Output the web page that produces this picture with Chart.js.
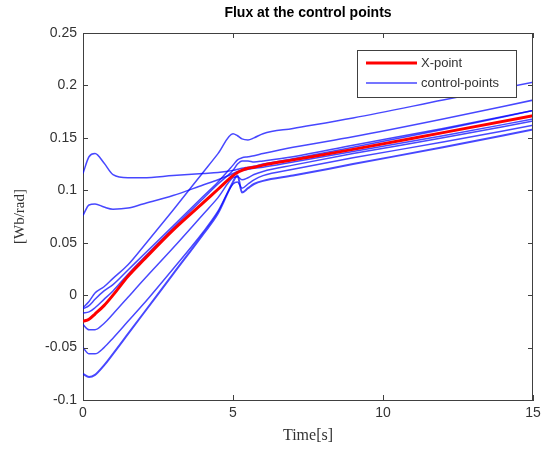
<!DOCTYPE html>
<html>
<head>
<meta charset="utf-8">
<script src="https://cdn.jsdelivr.net/npm/chart.js@4"></script>
<style>
  body { margin: 0; background: #fff; }
  canvas { display: block; }
</style>
</head>
<body>
<canvas id="flux_chart" width="546" height="450"></canvas>
<script>
// time axis shared by every trace
const time_s = [0, 0.2, 0.4, 0.7, 1, 1.5, 2, 3, 4, 4.5, 5, 5.15, 5.3, 5.5, 5.7, 6, 7, 9, 12, 15]

// X-point flux [Wb/rad]
const xpoint = [-0.025, -0.023, -0.018, -0.010, 0.000, 0.018, 0.033, 0.062, 0.088, 0.101, 0.114, 0.117, 0.119, 0.121, 0.122, 0.124, 0.129, 0.139, 0.155, 0.171]

// control points flux [Wb/rad]
const cp_a = [0.116, 0.132, 0.135, 0.126, 0.115, 0.112, 0.112, 0.114, 0.116, 0.117, 0.119, 0.120, 0.121, 0.122, 0.123, 0.125, 0.130, 0.141, 0.158, 0.176]
const cp_b = [0.076, 0.086, 0.087, 0.084, 0.082, 0.083, 0.087, 0.095, 0.105, 0.110, 0.116, 0.118, 0.119, 0.120, 0.121, 0.122, 0.127, 0.137, 0.152, 0.168]
const cp_c = [-0.012, -0.006, 0.002, 0.008, 0.016, 0.029, 0.046, 0.081, 0.117, 0.135, 0.154, 0.152, 0.149, 0.148, 0.150, 0.154, 0.159, 0.169, 0.186, 0.203]
const cp_d = [-0.013, -0.010, -0.004, 0.004, 0.010, 0.024, 0.038, 0.066, 0.094, 0.108, 0.124, 0.129, 0.131, 0.132, 0.133, 0.135, 0.141, 0.151, 0.168, 0.186]
const cp_e = [-0.017, -0.016, -0.012, -0.004, 0.004, 0.020, 0.035, 0.064, 0.092, 0.106, 0.119, 0.125, 0.128, 0.128, 0.127, 0.128, 0.132, 0.143, 0.159, 0.176]
const cp_f = [-0.028, -0.033, -0.033, -0.027, -0.018, -0.002, 0.014, 0.045, 0.077, 0.093, 0.112, 0.113, 0.110, 0.112, 0.115, 0.118, 0.124, 0.135, 0.150, 0.166]
const cp_g = [-0.050, -0.056, -0.056, -0.050, -0.041, -0.025, -0.009, 0.025, 0.060, 0.080, 0.106, 0.108, 0.102, 0.106, 0.110, 0.114, 0.120, 0.131, 0.146, 0.162]
const cp_h = [-0.075, -0.078, -0.076, -0.067, -0.056, -0.037, -0.018, 0.020, 0.058, 0.078, 0.108, 0.114, 0.098, 0.102, 0.106, 0.109, 0.114, 0.125, 0.141, 0.158]

const control_points = [cp_a, cp_b, cp_c, cp_d, cp_e, cp_f, cp_g, cp_h]

const x_ticks = [0, 5, 10, 15]
const y_ticks = [-0.1, -0.05, 0, 0.05, 0.1, 0.15, 0.2, 0.25]

const axis_color = "#404040"
const text_color = "#333333"
const blue = "rgba(0,0,255,0.72)"
const red = "rgb(255,0,0)"

function to_points(values) {
  return values.map((v, i) => ({ x: time_s[i], y: v }))
}

let datasets = [{
  label: "X-point",
  data: to_points(xpoint),
  borderColor: red,
  borderWidth: 3,
  order: 0
}]

control_points.forEach((cp, i) => {
  datasets.push({
    label: "control-points",
    data: to_points(cp),
    borderColor: blue,
    borderWidth: i == 7 ? 2 : 1.5,
    order: 1
  })
})

// box, inward ticks, title and legend in the MATLAB style
const matlab_frame = {
  id: "matlab_frame",
  afterDraw(chart) {
    const ctx = chart.ctx
    const a = chart.chartArea
    const sx = chart.scales.x, sy = chart.scales.y
    ctx.save()
    ctx.strokeStyle = axis_color
    ctx.lineWidth = 1
    ctx.beginPath()
    ctx.moveTo(a.left, a.top + 0.5); ctx.lineTo(a.right, a.top + 0.5)
    ctx.moveTo(a.right - 0.5, a.top); ctx.lineTo(a.right - 0.5, a.bottom)
    x_ticks.forEach(t => {
      const px = Math.round(sx.getPixelForValue(t)) + 0.5
      ctx.moveTo(px, a.bottom); ctx.lineTo(px, a.bottom - 5)
      ctx.moveTo(px, a.top); ctx.lineTo(px, a.top + 5)
    })
    y_ticks.forEach(t => {
      const py = Math.round(sy.getPixelForValue(t)) + 0.5
      ctx.moveTo(a.left, py); ctx.lineTo(a.left + 5, py)
      ctx.moveTo(a.right, py); ctx.lineTo(a.right - 5, py)
    })
    ctx.stroke()

    // title over the plot box
    ctx.fillStyle = "#000"
    ctx.font = "bold 14px 'Liberation Sans', Arial, sans-serif"
    ctx.textAlign = "center"
    ctx.textBaseline = "middle"
    ctx.fillText("Flux at the control points", (a.left + a.right) / 2, 13)

    // legend
    const lx = 357, ly = 50, lw = 159, lh = 47
    ctx.fillStyle = "#fff"
    ctx.fillRect(lx, ly, lw, lh)
    ctx.strokeStyle = axis_color
    ctx.strokeRect(lx + 0.5, ly + 0.5, lw, lh)
    const items = [datasets[0], datasets[1]]
    items.forEach((ds, i) => {
      const y = ly + 13 + i * 20
      ctx.beginPath()
      ctx.strokeStyle = ds.borderColor
      ctx.lineWidth = ds.borderWidth
      ctx.moveTo(lx + 9, y); ctx.lineTo(lx + 60, y)
      ctx.stroke()
      ctx.fillStyle = text_color
      ctx.font = "13px 'Liberation Sans', Arial, sans-serif"
      ctx.textAlign = "left"
      ctx.fillText(ds.label, lx + 64, y)
    })
    ctx.restore()
  }
}

const tick_font = { family: "'Liberation Sans', Arial, sans-serif", size: 14 }

new Chart(document.getElementById("flux_chart"), {
  type: "line",
  data: { datasets: datasets },
  options: {
    responsive: false,
    animation: false,
    layout: { padding: { top: 33, right: 13, left: 0, bottom: 0 } },
    elements: { point: { radius: 0 }, line: { cubicInterpolationMode: "monotone" } },
    plugins: {
      legend: { display: false },
      tooltip: { enabled: false },
      title: { display: false }
    },
    scales: {
      x: {
        type: "linear",
        min: 0, max: 15,
        afterBuildTicks: s => { s.ticks = x_ticks.map(v => ({ value: v })) },
        ticks: { color: text_color, font: tick_font, padding: 5, maxRotation: 0 },
        grid: { display: false, drawTicks: false },
        border: { color: axis_color, width: 1 },
        title: {
          display: true, text: "Time[s]", color: text_color,
          font: { family: "'Liberation Serif', 'DejaVu Serif', serif", size: 16 },
          padding: { top: 0, bottom: 5 }
        },
        afterFit: s => { s.height = 50 }
      },
      y: {
        type: "linear",
        min: -0.1, max: 0.25,
        afterBuildTicks: s => { s.ticks = y_ticks.map(v => ({ value: v })) },
        ticks: {
          color: text_color, font: tick_font, padding: 6,
          callback: v => String(+v.toFixed(2))
        },
        grid: { display: false, drawTicks: false },
        border: { color: axis_color, width: 1 },
        title: {
          display: true, text: "[Wb/rad]", color: text_color,
          font: { family: "'Liberation Serif', 'DejaVu Serif', serif", size: 15 },
          padding: { top: 11, bottom: 0 }
        },
        afterFit: s => { s.width = 83 }
      }
    }
  },
  plugins: [matlab_frame]
})
</script>
</body>
</html>
